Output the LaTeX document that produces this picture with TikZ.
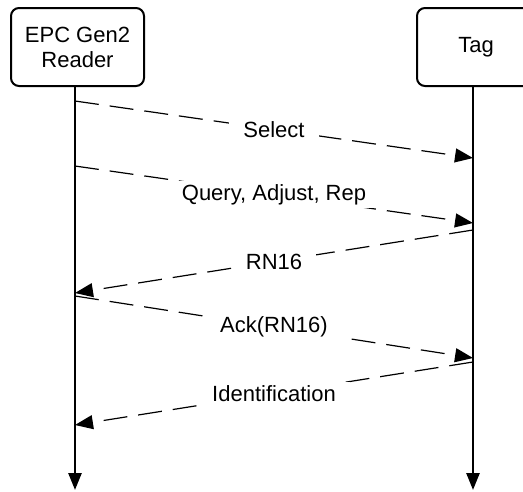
\documentclass[tikz,border=0pt]{standalone}
\usepackage{fontspec}
\setmainfont{Liberation Sans}
\usetikzlibrary{arrows.meta}
\begin{document}
\begin{tikzpicture}[x=1pt,y=-1pt,
  lifebox/.style={draw, line width=2pt, rounded corners=8pt, fill=white, align=center,
    inner sep=0pt, minimum height=78pt, font=\fontsize{22}{25}\selectfont},
  life/.style={line width=2.6pt, -{Triangle[length=17pt,width=13pt]}},
  msg/.style={line width=1.2pt, dash pattern=on 24pt off 11pt, -{Triangle[length=18pt,width=14pt]}},
  lbl/.style={fill=white, inner xsep=14pt, inner ysep=3pt, font=\fontsize{22}{25}\selectfont}]
\useasboundingbox (0,0) rectangle (523,491);
% lifeline boxes
\node[lifebox, minimum width=133pt] (reader) at (77.5,47) {EPC Gen2\\Reader};
\node[lifebox, minimum width=118pt] (tag) at (476,47) {Tag};
% lifelines
\coordinate (rtop) at (75,86);
\coordinate (rbot) at (75,490);
\coordinate (ttop) at (473,86);
\coordinate (tbot) at (473,490);
\draw[life] (rtop) -- (rbot);
\draw[life] (ttop) -- (tbot);
% message end points
\coordinate (s1) at (75,101);  \coordinate (s2) at (473,158);
\coordinate (q1) at (75,166);  \coordinate (q2) at (473,223);
\coordinate (n1) at (473,230); \coordinate (n2) at (75,293);
\coordinate (a1) at (75,296);  \coordinate (a2) at (473,358);
\coordinate (i1) at (473,362); \coordinate (i2) at (75,425);
% messages
\draw[msg] (s1) -- node[lbl] {Select} (s2);
\draw[msg] (q1) -- node[lbl] {Query, Adjust, Rep} (q2);
\draw[msg] (n1) -- node[lbl] {RN16} (n2);
\draw[msg] (a1) -- node[lbl] {Ack(RN16)} (a2);
\draw[msg] (i1) -- node[lbl] {Identification} (i2);
\end{tikzpicture}
\end{document}
